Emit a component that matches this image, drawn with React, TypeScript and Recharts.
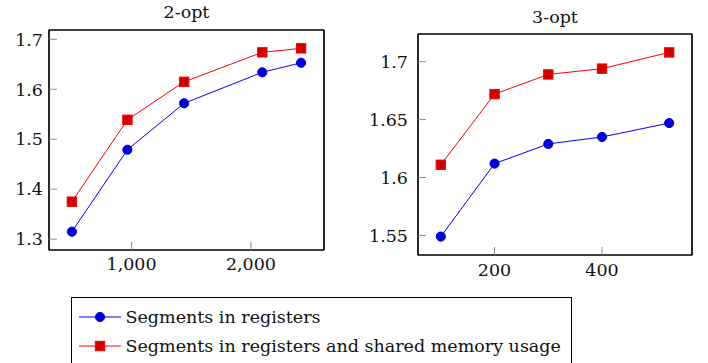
import { Line, LineChart, ReferenceArea, XAxis, YAxis } from 'recharts';

const seriesNames = ['Segments in registers', 'Segments in registers and shared memory usage'];

// 2-opt
const twoOptSizes = [500, 965, 1440, 2095, 2420];
const twoOptRegisters = [1.315, 1.479, 1.572, 1.634, 1.653];
const twoOptShared = [1.375, 1.539, 1.615, 1.674, 1.682];
const twoOptXTicks = [1000, 2000];
const twoOptYTicks = [1.3, 1.4, 1.5, 1.6, 1.7];

// 3-opt
const threeOptSizes = [100, 200, 300, 400, 525];
const threeOptRegisters = [1.549, 1.612, 1.629, 1.635, 1.647];
const threeOptShared = [1.611, 1.672, 1.689, 1.694, 1.708];
const threeOptXTicks = [200, 400];
const threeOptYTicks = [1.55, 1.6, 1.65, 1.7];

const FONT = "'DejaVu Serif', 'Liberation Serif', 'Times New Roman', Tinos, 'Noto Serif', serif";
const BLUE = '#0000ff';
const BLUE_FILL = '#0000cc';
const RED = '#ff0000';
const RED_FILL = '#cc0000';

const FS = 17.5;
const tickStyle = { fontSize: FS, fontFamily: FONT, fill: '#111' };
const frame = { stroke: '#000', strokeWidth: 1.2 };
const tickLine = { stroke: '#8a8a8a', strokeWidth: 1 };

const enlarge = (vals: number[]): [number, number] => {
  const lo = Math.min(...vals);
  const hi = Math.max(...vals);
  const pad = (hi - lo) * 0.1;
  return [lo - pad, hi + pad];
};

const circleDot = (props: any) => (
  <circle
    key={`c-${props.index}`}
    cx={props.cx}
    cy={props.cy}
    r={4.6}
    fill={BLUE_FILL}
    stroke={BLUE}
    strokeWidth={1}
  />
);

const squareDot = (props: any) => (
  <rect
    key={`s-${props.index}`}
    x={props.cx - 4.7}
    y={props.cy - 4.7}
    width={9.4}
    height={9.4}
    fill={RED_FILL}
    stroke={RED}
    strokeWidth={1}
  />
);

interface PanelProps {
  title: string;
  sizes: number[];
  registers: number[];
  shared: number[];
  xTicks: number[];
  yTicks: number[];
  left: number;
  width: number;
  yAxisWidth: number;
  top: number;
  bottom: number;
  yMargin: number;
  xMargin: number;
  titleTop: number;
  xFormat: (v: number) => string;
}

function Panel(p: PanelProps) {
  const data = p.sizes.map((n, i) => ({ n, a: p.registers[i], b: p.shared[i] }));
  const xDomain = enlarge(p.sizes);
  const yDomain = enlarge([...p.registers, ...p.shared]);
  const plotLeft = p.yAxisWidth;
  const plotRight = p.width - 16;
  return (
    <div style={{ position: 'absolute', left: p.left, top: 0, width: p.width, height: 290 }}>
      <div
        style={{
          position: 'absolute',
          left: plotLeft,
          width: plotRight - plotLeft,
          top: p.titleTop,
          textAlign: 'center',
          fontFamily: FONT,
          fontSize: FS,
          lineHeight: '20px',
          color: '#111',
        }}
      >
        {p.title}
      </div>
      <LineChart
        width={p.width}
        height={290}
        data={data}
        margin={{ top: p.top - 1, right: 0, bottom: 0, left: 0 }}
      >
        <XAxis
          dataKey="n"
          type="number"
          domain={xDomain}
          allowDataOverflow
          ticks={p.xTicks}
          tickFormatter={p.xFormat}
          height={290 - p.bottom}
          tickSize={-8}
          tickMargin={p.xMargin}
          axisLine={frame}
          tickLine={tickLine}
          tick={tickStyle}
          interval={0}
        />
        <XAxis
          xAxisId="top"
          orientation="top"
          dataKey="n"
          type="number"
          domain={xDomain}
          allowDataOverflow
          ticks={p.xTicks}
          height={1}
          tickSize={-8}
          axisLine={frame}
          tickLine={tickLine}
          tick={false}
          interval={0}
        />
        <YAxis
          type="number"
          domain={yDomain}
          allowDataOverflow
          ticks={p.yTicks}
          tickFormatter={(v: number) => String(v)}
          width={p.yAxisWidth}
          tickSize={-8}
          tickMargin={p.yMargin}
          axisLine={frame}
          tickLine={tickLine}
          tick={tickStyle}
          interval={0}
        />
        <YAxis
          yAxisId="right"
          orientation="right"
          type="number"
          domain={yDomain}
          allowDataOverflow
          ticks={p.yTicks}
          width={16}
          tickSize={-8}
          axisLine={frame}
          tickLine={tickLine}
          tick={false}
          interval={0}
        />
        <ReferenceArea
          x1={xDomain[0]}
          x2={xDomain[1]}
          y1={yDomain[0]}
          y2={yDomain[1]}
          fill="none"
          fillOpacity={0}
          stroke="#000"
          strokeWidth={1.2}
          ifOverflow="visible"
        />
        <Line
          dataKey="a"
          name={seriesNames[0]}
          stroke={BLUE}
          strokeWidth={1}
          dot={circleDot}
          isAnimationActive={false}
        />
        <Line
          dataKey="b"
          name={seriesNames[1]}
          stroke={RED}
          strokeWidth={1}
          dot={squareDot}
          isAnimationActive={false}
        />
      </LineChart>
    </div>
  );
}

function LegendIcon({ index }: { index: number }) {
  return (
    <svg width={42} height={14} style={{ display: 'block' }}>
      <line x1={0} y1={7} x2={42} y2={7} stroke={index === 0 ? BLUE : RED} strokeWidth={1} />
      {index === 0 ? (
        <circle cx={21} cy={7} r={4.6} fill={BLUE_FILL} stroke={BLUE} strokeWidth={1} />
      ) : (
        <rect x={16.3} y={2.3} width={9.4} height={9.4} fill={RED_FILL} stroke={RED} strokeWidth={1} />
      )}
    </svg>
  );
}

export default function App() {
  return (
    <div
      style={{
        position: 'absolute',
        left: 0,
        top: 0,
        width: 708,
        height: 363,
        overflow: 'hidden',
        background: '#fff',
        fontFamily: FONT,
      }}
    >
      <Panel
        title="2-opt"
        sizes={twoOptSizes}
        registers={twoOptRegisters}
        shared={twoOptShared}
        xTicks={twoOptXTicks}
        yTicks={twoOptYTicks}
        left={0}
        width={340}
        yAxisWidth={49}
        top={30}
        bottom={250}
        yMargin={14}
        xMargin={16}
        titleTop={1.5}
        xFormat={(v: number) => v.toLocaleString('en-US')}
      />
      <Panel
        title="3-opt"
        sizes={threeOptSizes}
        registers={threeOptRegisters}
        shared={threeOptShared}
        xTicks={threeOptXTicks}
        yTicks={threeOptYTicks}
        left={360}
        width={348}
        yAxisWidth={58}
        top={34}
        bottom={255}
        yMargin={18}
        xMargin={17}
        titleTop={6.5}
        xFormat={(v: number) => String(v)}
      />
      <div
        style={{
          position: 'absolute',
          left: 71,
          top: 297,
          width: 499,
          height: 80,
          border: '1.2px solid #000',
          background: '#fff',
        }}
      >
        {seriesNames.map((name, i) => (
          <div
            key={name}
            style={{
              position: 'absolute',
              left: 0,
              top: 5 + i * 28.5,
              height: 28.5,
              display: 'flex',
              alignItems: 'center',
              whiteSpace: 'nowrap',
            }}
          >
            <div style={{ marginLeft: 7, marginRight: 4.5 }}>
              <LegendIcon index={i} />
            </div>
            <span style={{ fontSize: FS, lineHeight: '28.5px', color: '#111' }}>{name}</span>
          </div>
        ))}
      </div>
    </div>
  );
}
